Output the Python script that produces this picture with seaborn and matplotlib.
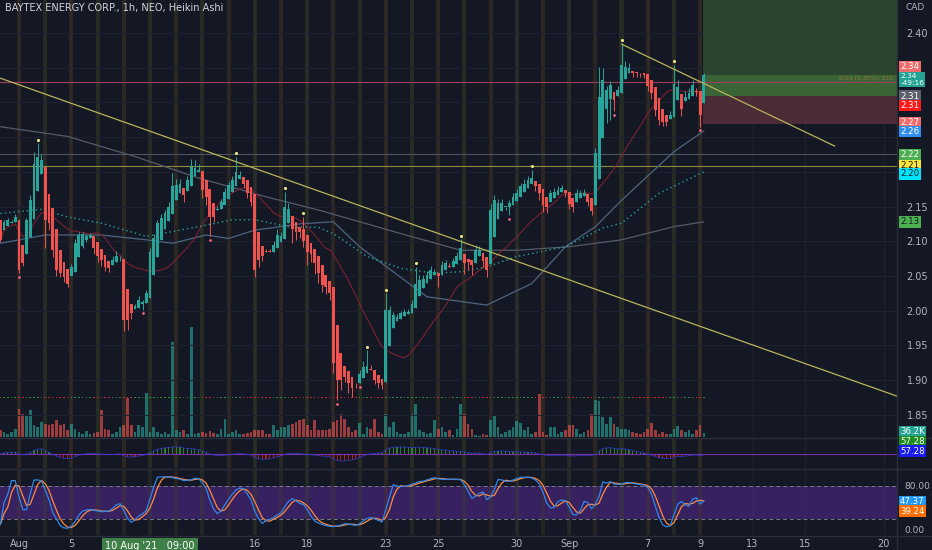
import numpy as np
import pandas as pd
import matplotlib
matplotlib.use("Agg")
import matplotlib.pyplot as plt
from matplotlib.patches import Rectangle
from matplotlib.lines import Line2D
import seaborn as sns

# ---- values: 1h Heikin Ashi bars, Jul 30 (last 5 bars) -> Sep 9 2021 ----
# 7 bars per trading day, first full day (Aug 3) starts at bar 5
ha_open_first = 2.130
ha_close = [
    2.102, 2.128, 2.131, 2.128, 2.135,
    2.058, 2.068, 2.130, 2.159, 2.212, 2.222, 2.217,   # Aug 3
    2.130, 2.126, 2.087, 2.058, 2.054, 2.049, 2.039,   # Aug 4
    2.063, 2.097, 2.109, 2.110, 2.108, 2.109, 2.090,   # Aug 5
    2.078, 2.073, 2.063, 2.061, 2.073, 2.078, 2.075,   # Aug 6
    1.987, 1.987, 1.996, 2.006, 2.015, 2.013, 2.025,   # Aug 9
    2.085, 2.104, 2.126, 2.133, 2.140, 2.150, 2.179,   # Aug 10
    2.181, 2.183, 2.167, 2.188, 2.207, 2.205, 2.203,   # Aug 11
    2.174, 2.164, 2.135, 2.135, 2.147, 2.157, 2.171,   # Aug 12
    2.181, 2.188, 2.200, 2.195, 2.183, 2.169, 2.157,   # Aug 13
    2.058, 2.073, 2.078, 2.085, 2.085, 2.094, 2.109,   # Aug 16
    2.107, 2.150, 2.147, 2.118, 2.114, 2.114, 2.100,   # Aug 17
    2.085, 2.082, 2.068, 2.054, 2.037, 2.034, 2.025,   # Aug 18
    1.924, 1.900, 1.900, 1.905, 1.895, 1.888, 1.895,   # Aug 19
    1.909, 1.919, 1.920, 1.915, 1.900, 1.895, 1.893,   # Aug 20
    2.001, 2.001, 1.994, 1.991, 1.996, 1.998, 1.998,   # Aug 23
    2.010, 2.039, 2.044, 2.046, 2.051, 2.058, 2.056,   # Aug 24
    2.050, 2.066, 2.068, 2.063, 2.071, 2.078, 2.090,   # Aug 25
    2.068, 2.070, 2.066, 2.087, 2.087, 2.071, 2.058,   # Aug 26
    2.145, 2.159, 2.155, 2.155, 2.150, 2.155, 2.164,   # Aug 27
    2.169, 2.179, 2.183, 2.188, 2.191, 2.179, 2.169,   # Aug 30
    2.152, 2.150, 2.169, 2.171, 2.174, 2.176, 2.169,   # Aug 31
    2.154, 2.150, 2.169, 2.169, 2.170, 2.157, 2.143,   # Sep 1
    2.227, 2.308, 2.332, 2.318, 2.325, 2.303, 2.318,   # Sep 2
    2.354, 2.351, 2.349, 2.342, 2.342, 2.342, 2.340,   # Sep 3
    2.323, 2.313, 2.289, 2.275, 2.272, 2.272, 2.282,   # Sep 7
    2.327, 2.322, 2.291, 2.308, 2.313, 2.325, 2.315,   # Sep 8
    2.282, 2.339,                                      # Sep 9
]
# wick lengths beyond the body, in thousandths of CAD
wick_up = [
    0, 3, 2, 2, 4,
    0, 0, 4, 8, 17, 19, 8,
    0, 0, 0, 0, 0, 0, 0,
    4, 6, 5, 3, 3, 3, 0,
    0, 0, 0, 0, 5, 8, 3,
    0, 0, 0, 4, 6, 3, 5,
    5, 6, 5, 6, 5, 6, 19,
    8, 6, 0, 6, 12, 12, 8,
    0, 0, 0, 0, 4, 4, 5,
    5, 6, 22, 6, 0, 0, 0,
    0, 0, 0, 4, 4, 6, 8,
    6, 21, 8, 0, 0, 0, 18,
    0, 0, 0, 0, 0, 0, 0,
    0, 0, 0, 0, 0, 0, 0,
    6, 8, 23, 6, 0, 0, 0,
    24, 6, 4, 4, 4, 4, 4,
    6, 24, 8, 6, 6, 6, 4,
    0, 6, 5, 5, 5, 6, 13,
    0, 0, 0, 8, 6, 0, 0,
    8, 8, 6, 6, 0, 4, 5,
    6, 5, 6, 6, 12, 0, 0,
    0, 0, 5, 5, 5, 5, 0,
    0, 0, 6, 5, 5, 0, 0,
    8, 43, 17, 6, 6, 0, 6,
    31, 8, 8, 0, 0, 0, 0,
    0, 0, 0, 0, 0, 0, 5,
    27, 10, 0, 8, 8, 8, 4,
    0, 3,
]
wick_dn = [
    3, 0, 0, 0, 0,
    4, 4, 0, 0, 0, 0, 0,
    40, 10, 10, 8, 6, 8, 5,
    0, 0, 0, 3, 3, 0, 8,
    8, 8, 6, 5, 0, 0, 3,
    17, 15, 8, 0, 0, 8, 0,
    0, 0, 0, 0, 0, 0, 0,
    0, 0, 10, 0, 0, 0, 0,
    12, 12, 28, 8, 0, 0, 0,
    0, 0, 0, 0, 6, 6, 6,
    9, 10, 6, 0, 0, 0, 0,
    0, 0, 0, 21, 12, 10, 8,
    19, 12, 15, 14, 10, 10, 10,
    14, 29, 14, 8, 14, 12, 6,
    0, 0, 0, 0, 6, 6, 6,
    0, 0, 0, 0, 0, 0, 0,
    0, 0, 0, 0, 0, 0, 0,
    16, 0, 0, 0, 0, 0, 0,
    15, 12, 15, 0, 0, 8, 10,
    0, 0, 0, 0, 4, 12, 0,
    0, 0, 0, 0, 0, 6, 10,
    10, 10, 0, 0, 0, 0, 5,
    8, 8, 0, 0, 0, 6, 5,
    0, 0, 0, 20, 30, 16, 0,
    0, 0, 0, 5, 5, 5, 5,
    6, 8, 8, 8, 6, 6, 0,
    0, 0, 10, 0, 0, 0, 6,
    17, 0,
]
# volume in thousands of shares
volume_k = [
    63, 45, 27, 45, 72,
    252, 207, 198, 243, 108, 90, 135,
    117, 108, 117, 153, 108, 117, 63,
    117, 72, 45, 27, 54, 27, 36,
    45, 243, 72, 63, 27, 45, 90,
    108, 351, 108, 45, 108, 90, 396,
    45, 90, 45, 27, 45, 27, 855,
    63, 45, 63, 27, 990, 27, 36,
    45, 36, 54, 36, 27, 72, 162,
    27, 45, 63, 27, 27, 36, 45,
    63, 63, 63, 27, 27, 108, 63,
    90, 90, 108, 117, 135, 153, 162,
    108, 63, 153, 63, 63, 63, 72,
    135, 153, 207, 162, 90, 45, 63,
    126, 27, 90, 72, 162, 45, 27,
    207, 90, 135, 45, 27, 27, 45,
    207, 297, 63, 45, 27, 36, 153,
    72, 90, 45, 63, 18, 72, 297,
    207, 117, 72, 18, 9, 27, 18,
    153, 198, 90, 27, 45, 63, 90,
    144, 126, 63, 90, 27, 45, 387,
    45, 18, 90, 90, 27, 45, 63,
    108, 108, 72, 27, 45, 63, 207,
    333, 324, 180, 117, 180, 117, 90,
    72, 72, 63, 45, 36, 27, 45,
    72, 126, 63, 27, 45, 27, 27,
    72, 99, 63, 45, 63, 27, 63,
    108, 36,
]
pivot_high_bars = [10, 63, 76, 81, 98, 103, 111, 123, 142, 166, 180]
pivot_low_bars = [5, 38, 56, 90, 96, 136, 164, 187]

# moving averages (bar index, price)
ma_dot_bar = [0, 11, 18, 27, 39, 46, 53, 62, 68, 77, 85, 89, 98, 107, 116, 123, 130, 138, 151, 161, 166, 176, 188]
ma_dot_val = [2.140, 2.146, 2.135, 2.126, 2.107, 2.114, 2.121, 2.131, 2.131, 2.121, 2.120, 2.111, 2.078, 2.061,
              2.054, 2.056, 2.063, 2.078, 2.092, 2.119, 2.126, 2.169, 2.200]
ma_long_bar = [0, 18, 36, 53, 71, 85, 98, 107, 123, 138, 152, 166, 180, 188]
ma_long_val = [2.265, 2.251, 2.222, 2.191, 2.164, 2.145, 2.125, 2.111, 2.087, 2.087, 2.092, 2.102, 2.121, 2.128]
ma_mid_bar = [0, 12, 27, 39, 46, 55, 61, 68, 80, 89, 96, 114, 130, 142, 151, 159, 166, 180, 188]
ma_mid_val = [2.097, 2.109, 2.109, 2.102, 2.097, 2.109, 2.104, 2.116, 2.125, 2.128, 2.092, 2.020, 2.008, 2.039,
              2.092, 2.121, 2.159, 2.229, 2.259]

# drawings
trend1_bar, trend1_price = [0, 240], [2.335, 1.876]
trend2_bar, trend2_price = [166, 223], [2.384, 2.237]
hline_pink, hline_gray, hline_yellow = 2.330, 2.225, 2.209
dotted_level = 1.875
pos_start_bar, pos_entry, pos_stop, pos_target, last_price = 187.8, 2.309, 2.269, 2.46, 2.339

# axis labels
price_ticks = [1.85, 1.90, 1.95, 2.00, 2.05, 2.10, 2.15, 2.40]
date_labels = ['Aug', '5', '16', '18', '23', '25', '30', 'Sep', '7', '9', '13', '15', '20']
date_label_day = [0, 2, 9, 11, 14, 16, 19, 21, 24, 26, 28, 30, 33]
loaded_days = 27
tag_text = ['2.34', '2.34\n-49:16', '2.31', '2.31', '2.27', '2.26', '2.22', '2.21', '2.20', '2.13']
tag_price = [2.352, 2.333, 2.309, 2.296, 2.271, 2.258, 2.225, 2.209, 2.197, 2.128]
tag_color = ['#f06c6c', '#22a394', '#5d606b', '#ff1a1a', '#f06c6c', '#2f8ef0', '#4caf50', '#f5e53a', '#00e5ff', '#4caf50']
tag_txt = ['white', 'white', 'white', 'white', 'white', 'white', 'white', '#131722', '#131722', '#131722']

sns.set_theme(style="dark")
plt.rcParams['font.family'] = ['DejaVu Sans']

BG = '#141824'
GRID = '#1e2230'
TXT = '#b2b5be'
UP = '#26a69a'
DN = '#ef5350'
STRIPES = ['#4a3a22', '#3c4426']

n = len(ha_close)
bars = np.arange(n)
ha_open = [ha_open_first]
for k in range(1, n):
    ha_open.append((ha_open[k - 1] + ha_close[k - 1]) / 2)
o = np.array(ha_open)
c = np.array(ha_close)
hi = np.maximum(o, c) + np.array(wick_up) / 1000
lo = np.minimum(o, c) - np.array(wick_dn) / 1000
up = c >= o
cols = np.where(up, UP, DN)

df = pd.DataFrame({'bar': bars, 'open': o, 'close': c, 'high': hi, 'low': lo, 'vol': volume_k})
df['sma20'] = df['close'].rolling(20, min_periods=1).mean()
hh = df['high'].rolling(14, min_periods=1).max()
ll = df['low'].rolling(14, min_periods=1).min()
raw_k = 100 * (df['close'] - ll) / (hh - ll)
df['k'] = raw_k.rolling(3, min_periods=1).mean()
df['d'] = df['k'].rolling(3, min_periods=1).mean()
macd = df['close'].ewm(span=12, adjust=False).mean() - df['close'].ewm(span=26, adjust=False).mean()
df['hist'] = macd - macd.ewm(span=9, adjust=False).mean()

W, H = 932, 550
fig = plt.figure(figsize=(W / 100, H / 100), dpi=100)
fig.patch.set_facecolor(BG)
RIGHT = 897 / W


def rect(top_px, bot_px):
    return [0, 1 - bot_px / H, RIGHT, (bot_px - top_px) / H]


ax_v = fig.add_axes(rect(0, 437))
ax = fig.add_axes(rect(0, 437))
axm = fig.add_axes(rect(439, 468))
axs = fig.add_axes(rect(469, 535))
ax_v.set_zorder(0)
ax.set_zorder(1)
XLIM = (-0.08, 239.6)
day_bars = [5 + 7 * d for d in range(loaded_days)]
tick_bars = [5 + 7 * d for d in date_label_day]


def day_stripes(a, alpha, z):
    for j, b in enumerate(day_bars):
        a.axvspan(b - 0.55, b + 0.55, color=STRIPES[j % 2], alpha=alpha, lw=0, zorder=z)


for a in (ax_v, ax, axm, axs):
    a.set_xlim(*XLIM)
    a.set_facecolor(BG)
    for s in a.spines.values():
        s.set_visible(False)
    a.grid(False)
ax.patch.set_visible(False)

for a in (ax_v, axm, axs):
    for b in tick_bars:
        a.axvline(b, color=GRID, lw=0.9, zorder=0)

# volume (own scale under the price pane)
ax_v.set_ylim(0, 3933)
day_stripes(ax_v, 0.45, 0.5)
ax_v.bar(bars, df['vol'], width=0.72, color=cols, alpha=0.62, lw=0, zorder=1)
ax_v.set_xticks([])
ax_v.set_yticks([])

# price pane
ax.set_ylim(1.8179, 2.4476)
for p in np.arange(1.85, 2.401, 0.05):
    ax.axhline(p, color=GRID, lw=0.8, zorder=0)
ax.add_patch(Rectangle((pos_start_bar, pos_entry), XLIM[1] - pos_start_bar, pos_target - pos_entry,
                       color='#2a4430', lw=0, zorder=0.5))
ax.add_patch(Rectangle((pos_start_bar, pos_entry), XLIM[1] - pos_start_bar, last_price - pos_entry,
                       color='#3a6436', lw=0, zorder=0.6))
ax.add_patch(Rectangle((pos_start_bar, pos_stop), XLIM[1] - pos_start_bar, pos_entry - pos_stop,
                       color='#4a2b36', lw=0, zorder=0.5))
ax.text(XLIM[1] - 1, 2.334, '0.03 (1.30%) 131', color='#b07a3c', fontsize=4.5, ha='right', va='center',
        alpha=0.8, zorder=3)

ax.axhline(hline_pink, color='#9c3d5a', lw=0.8, zorder=1)
ax.axhline(hline_gray, color='#4c525e', lw=0.8, zorder=1)
ax.axhline(hline_yellow, color='#8d8a3c', lw=0.8, zorder=1)

level_cols = np.where(up, '#2e8b3a', '#c62828')
ax.scatter(bars, [dotted_level] * n, marker='s', s=1.3, c=level_cols, lw=0, zorder=2)

sns.lineplot(x=ma_long_bar, y=ma_long_val, ax=ax, color='#555b67', lw=0.9, zorder=2)
sns.lineplot(x=ma_mid_bar, y=ma_mid_val, ax=ax, color='#4d6580', lw=0.9, zorder=2)
sns.lineplot(data=df, x='bar', y='sma20', ax=ax, color='#7a2030', lw=0.8, zorder=2)
ax.plot(ma_dot_bar, ma_dot_val, color='#26a69a', lw=1.0, ls=(0, (1, 2.2)), zorder=2)

ax.vlines(bars, lo, hi, colors=cols, lw=0.7, zorder=3)
body = np.maximum(np.abs(c - o), 0.0008)
ax.bar(bars, body, bottom=np.minimum(o, c), width=0.75, color=cols, lw=0, zorder=4)
ax.scatter(pivot_high_bars, hi[pivot_high_bars] + 0.005, s=5, color='#e8e88a', lw=0, zorder=5)
ax.scatter(pivot_low_bars, lo[pivot_low_bars] - 0.005, s=4, color='#f0607a', lw=0, zorder=5)

ax.plot(trend1_bar, trend1_price, color='#b8b45a', lw=0.9, zorder=5)
ax.plot(trend2_bar, trend2_price, color='#b8b45a', lw=0.9, zorder=5)

ax.yaxis.tick_right()
ax.set_yticks(price_ticks)
ax.set_yticklabels([f'{v:.2f}' for v in price_ticks])
ax.tick_params(axis='y', length=0, pad=7, labelsize=7, colors=TXT)
ax.set_xticks([])
ax.set_xlabel('')
ax.set_ylabel('')

for t, p, fc, tc in zip(tag_text, tag_price, tag_color, tag_txt):
    two = '\n' in t
    ax.annotate(t, xy=(1.0, p), xycoords=('axes fraction', 'data'), xytext=(2.5, 0), textcoords='offset points',
                ha='left', va='center', fontsize=5.3 if two else 6.2, color=tc, linespacing=1.05,
                bbox=dict(boxstyle='square,pad=0.14', fc=fc, ec='none'), annotation_clip=False, zorder=10)

# oscillator pane
m = df['hist'].abs().max()
axm.set_ylim(-m * 1.9, m * 1.9)
day_stripes(axm, 0.45, 0)
axm.bar(bars, df['hist'], width=0.3, color=np.where(df['hist'] >= 0, '#2e7d32', '#b71c1c'), lw=0, zorder=1)
axm.plot(bars, df['hist'], color='#2a3bd6', lw=0.6, alpha=0.8, zorder=2)
axm.axhline(0, color='#7b2fa8', lw=0.8, zorder=1)
axm.set_xticks([])
axm.set_yticks([])

# stochastic pane
axs.set_ylim(-9.1, 110.9)
axs.axhspan(20, 80, color='#5b2a9e', alpha=0.5, lw=0, zorder=0)
day_stripes(axs, 0.35, 0.5)
axs.axhline(80, color='#787b86', lw=0.7, ls=(0, (4, 3)), zorder=1)
axs.axhline(20, color='#787b86', lw=0.7, ls=(0, (4, 3)), zorder=1)
sns.lineplot(data=df, x='bar', y='d', ax=axs, color='#ff8a3d', lw=0.9, zorder=2)
sns.lineplot(data=df, x='bar', y='k', ax=axs, color='#2f86e8', lw=0.9, zorder=3)
axs.set_xlim(*XLIM)
axs.set_xlabel('')
axs.set_ylabel('')
axs.yaxis.tick_right()
axs.set_yticks([0, 80])
axs.set_yticklabels(['0.00', '80.00'])
axs.tick_params(axis='y', length=0, pad=5, labelsize=6.5, colors=TXT)
axs.set_xticks(tick_bars)
axs.set_xticklabels(date_labels)
axs.tick_params(axis='x', length=0, pad=3, labelsize=7, colors=TXT)
axs.annotate("10 Aug '21   09:00", xy=(40, 0), xycoords=('data', 'axes fraction'), xytext=(0, -8),
             textcoords='offset points', ha='center', va='center', fontsize=7, color='white',
             bbox=dict(boxstyle='square,pad=0.3', fc='#3f8048', ec='none'), annotation_clip=False, zorder=10)


def side_tag(y_px, text, fc, tc='white'):
    fig.text(900 / W, 1 - y_px / H, text, fontsize=6.2, color=tc, ha='left', va='center',
             bbox=dict(boxstyle='square,pad=0.14', fc=fc, ec='none'))


side_tag(432, '36.2K', '#22a394')
side_tag(442, '57.28', '#1e8c1e')
side_tag(451, '57.28', '#1c1cf0')
side_tag(502, '47.37', '#2196f3')
side_tag(511, '39.24', '#ff6d00')

# frame lines, title
for y_px in (437.5, 468.5, 535.5):
    fig.add_artist(Line2D([0, 1], [1 - y_px / H] * 2, color='#2a2e39', lw=1))
fig.add_artist(Line2D([RIGHT, RIGHT], [0, 1], color='#2a2e39', lw=1))
fig.text(5 / W, 1 - 8 / H, 'BAYTEX ENERGY CORP., 1h, NEO, Heikin Ashi', color='#d1d4dc', fontsize=7, va='center')
fig.text(915 / W, 1 - 7 / H, 'CAD', fontsize=6.5, ha='center', va='center', color=TXT)

fig.savefig('out.png', dpi=100, facecolor=BG)
